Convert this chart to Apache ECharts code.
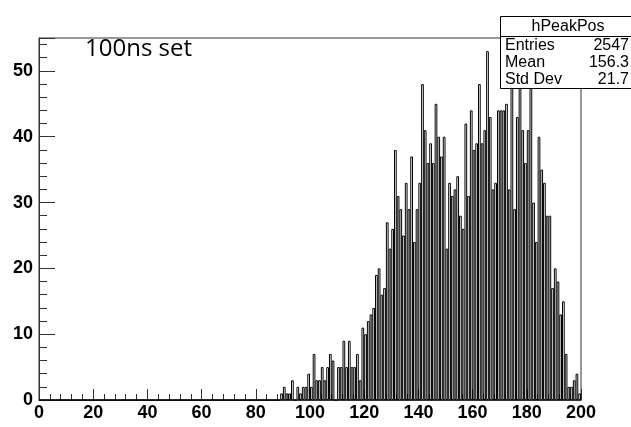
<!DOCTYPE html>
<html>
<head>
<meta charset="utf-8">
<script src="https://cdn.jsdelivr.net/npm/echarts@6/dist/echarts.min.js"></script>
<style>
html,body{margin:0;padding:0;background:#fff;}
#chart{width:631px;height:427px;}
</style>
</head>
<body>
<div id="chart"></div>
<script>
// Histogram hPeakPos: 200 bins of width 1 from 0 to 200
const binCounts = [
  0,0,0,0,0,0,0,0,0,0, 0,0,0,0,0,0,0,0,0,0,
  0,0,0,0,0,0,0,0,0,0, 0,0,0,0,0,0,0,0,0,0,
  0,0,0,0,0,0,0,0,0,0, 0,0,0,0,0,0,0,0,0,0,
  0,0,0,0,0,0,0,0,0,0, 0,0,0,0,0,0,0,0,0,0,
  0,0,0,0,0,0,0,0,0,1, 2,1,1,3,0,2,1,2,2,4,
  2,7,3,3,5,3,5,7,6,0, 5,5,9,5,9,5,5,7,3,11,
  10,12,13,14,19,20,16,17,27,23, 26,38,31,29,25,33,29,37,24,29,
  33,48,41,36,39,36,45,40,37,40, 23,33,31,32,34,28,26,42,31,44,
  38,39,48,39,41,53,43,32,33,44, 44,44,45,32,49,29,43,50,41,36,
  41,49,30,24,40,35,33,28,28,17, 20,18,13,15,7,2,2,3,4,1
];
const binLabels = binCounts.map((_, i) => String(i));
const xTickValues = [0, 20, 40, 60, 80, 100, 120, 140, 160, 180, 200];
const yTickValues = [0, 10, 20, 30, 40, 50];
const statsTitle = 'hPeakPos';
const statsRows = [['Entries', '2547'], ['Mean', '156.3'], ['Std Dev', '21.7']];
const annotation = '100ns set';

const chart = echarts.init(document.getElementById('chart'), null, {renderer: 'canvas'});
const labelFont = {fontFamily: 'Liberation Sans', fontWeight: 'bold', fontSize: 18, color: '#000'};

const statsGraphics = [
  {type: 'rect', shape: {x: 500.5, y: 16.5, width: 140, height: 72}, style: {fill: '#fff', stroke: '#000', lineWidth: 1}, z: 100},
  {type: 'line', shape: {x1: 500.5, y1: 36.5, x2: 631, y2: 36.5}, style: {stroke: '#000', lineWidth: 1}, z: 101},
  {type: 'text', x: 568, y: 27, style: {text: statsTitle, fontFamily: 'Liberation Sans', fontSize: 16, fill: '#000', align: 'center', verticalAlign: 'middle'}, z: 101}
];
statsRows.forEach((r, k) => {
  const yy = 46 + k * 17;
  statsGraphics.push({type: 'text', x: 505, y: yy, style: {text: r[0], fontFamily: 'Liberation Sans', fontSize: 16, fill: '#000', align: 'left', verticalAlign: 'middle'}, z: 101});
  statsGraphics.push({type: 'text', x: 629, y: yy, style: {text: r[1], fontFamily: 'Liberation Sans', fontSize: 16, fill: '#000', align: 'right', verticalAlign: 'middle'}, z: 101});
});

chart.setOption({
  animation: false,
  backgroundColor: '#fff',
  grid: {left: 39, right: 50, top: 38, bottom: 27, show: true, borderColor: '#333', borderWidth: 1, backgroundColor: 'transparent'},
  xAxis: [
    {type: 'category', data: binLabels, show: false, boundaryGap: true},
    {type: 'value', min: 0, max: 200, interval: 20, position: 'bottom',
     axisLine: {show: true, lineStyle: {color: '#333', width: 1}},
     axisTick: {show: true, inside: true, length: 11, lineStyle: {color: '#333'}},
     minorTick: {show: true, splitNumber: 5, length: 6, lineStyle: {color: '#333'}},
     splitLine: {show: false}, minorSplitLine: {show: false},
     axisLabel: Object.assign({margin: 4, formatter: v => xTickValues.includes(v) ? String(v) : ''}, labelFont)}
  ],
  yAxis: [
    {type: 'value', min: 0, max: 55, interval: 10, position: 'left',
     axisLine: {show: true, lineStyle: {color: '#333', width: 1}},
     axisTick: {show: true, inside: true, length: 16, lineStyle: {color: '#333'}},
     splitLine: {show: false},
     axisLabel: Object.assign({margin: 6, formatter: v => yTickValues.includes(v) ? String(v) : ''}, labelFont)},
    {type: 'value', min: 0, max: 55, interval: 2, position: 'left', offset: 0,
     axisLine: {show: false},
     axisTick: {show: true, inside: true, length: 8, lineStyle: {color: '#333'}},
     splitLine: {show: false},
     axisLabel: {show: false}}
  ],
  graphic: [
    {type: 'text', left: 85, top: 37, style: {text: annotation, fontFamily: 'Open Sans', fontSize: 24, fill: '#000'}, z: 50}
  ].concat(statsGraphics),
  series: [{
    type: 'bar',
    xAxisIndex: 0,
    yAxisIndex: 0,
    data: binCounts,
    barCategoryGap: '0%',
    barGap: '0%',
    itemStyle: {color: 'rgba(255,255,255,0)', borderColor: '#000', borderWidth: 1},
    emphasis: {disabled: true},
    silent: true
  }]
});
</script>
</body>
</html>
